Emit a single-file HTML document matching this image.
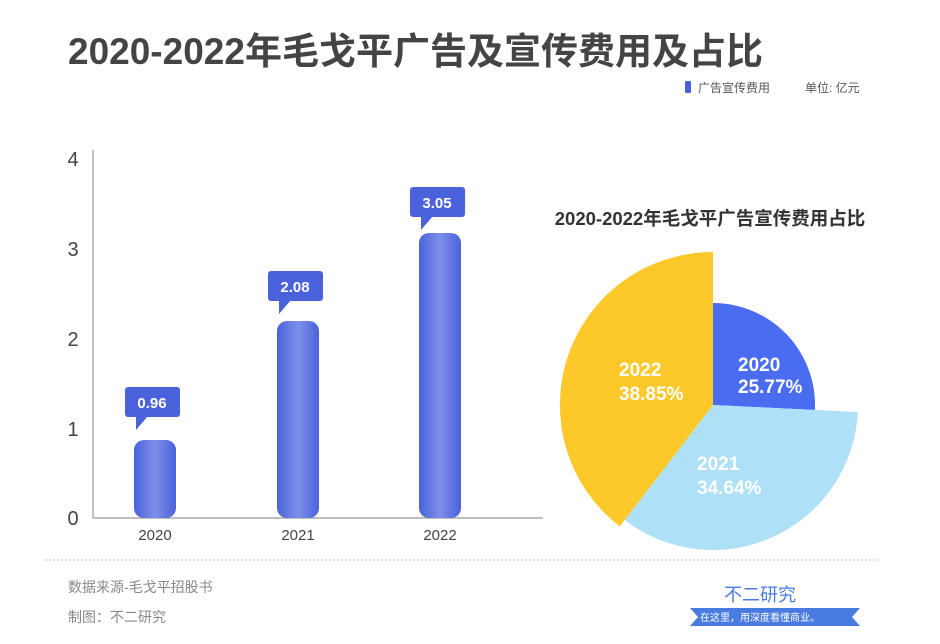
<!DOCTYPE html>
<html><head><meta charset="utf-8">
<style>
body{margin:0;width:940px;height:644px;background:#fff;overflow:hidden;font-family:"Liberation Sans","Noto Sans CJK SC",sans-serif;}
</style></head><body>
<svg width="940" height="644" viewBox="0 0 940 644" xmlns="http://www.w3.org/2000/svg" style="position:absolute;left:0;top:0">
<defs>
<linearGradient id="bg" x1="0" x2="1" y1="0" y2="0">
<stop offset="0" stop-color="#4a62db"/><stop offset="0.5" stop-color="#7e8fe8"/><stop offset="1" stop-color="#4a62db"/>
</linearGradient>
</defs>
<text x="68" y="64" font-size="37" font-weight="bold" fill="#444" font-family="Liberation Sans,Noto Sans CJK SC,sans-serif">2020-2022年毛戈平广告及宣传费用及占比</text>
<rect x="685" y="81" width="6" height="12" fill="#4a62db" rx="1"/>
<text x="698" y="92" font-size="12" fill="#555" font-family="Liberation Sans,Noto Sans CJK SC,sans-serif">广告宣传费用</text>
<text x="805" y="92" font-size="12" fill="#555" font-family="Liberation Sans,Noto Sans CJK SC,sans-serif">单位: 亿元</text>
<line x1="93" y1="150" x2="93" y2="518" stroke="#999" stroke-width="1.2"/>
<line x1="93" y1="518" x2="543" y2="518" stroke="#999" stroke-width="1.2"/>
<g font-size="20" fill="#444" text-anchor="middle">
<text x="73" y="166">4</text><text x="73" y="256">3</text><text x="73" y="346">2</text><text x="73" y="436">1</text><text x="73" y="525">0</text>
</g>
<g font-size="15" fill="#444" text-anchor="middle">
<text x="155" y="540">2020</text><text x="298" y="540">2021</text><text x="440" y="540">2022</text>
</g>
<rect x="134" y="440" width="42" height="78" rx="10" fill="url(#bg)"/>
<rect x="277" y="321" width="42" height="197" rx="10" fill="url(#bg)"/>
<rect x="419" y="233" width="42" height="285" rx="10" fill="url(#bg)"/>
<g font-size="15" font-weight="bold" fill="#fff" text-anchor="middle">
<rect x="125" y="387" width="55" height="30" rx="3" fill="#4a62db"/><path d="M136 416 L136 430 L148 416Z" fill="#4a62db"/><text x="152" y="408">0.96</text>
<rect x="268" y="271" width="55" height="30" rx="3" fill="#4a62db"/><path d="M279 300 L279 314 L291 300Z" fill="#4a62db"/><text x="295" y="292">2.08</text>
<rect x="410" y="187" width="55" height="30" rx="3" fill="#4a62db"/><path d="M421 216 L421 230 L433 216Z" fill="#4a62db"/><text x="437" y="208">3.05</text>
</g>
<text x="710" y="225" font-size="18.5" font-weight="bold" fill="#333" text-anchor="middle">2020-2022年毛戈平广告宣传费用占比</text>
<path d="M713 405 L713 303 A102 102 0 0 1 814.9 410 Z" fill="#4a6cf0"/>
<path d="M713 405 L857.8 412 A145 145 0 0 1 624.7 520 Z" fill="#aee0f8"/>
<path d="M713 405 L619.8 526.4 A153 153 0 0 1 713 252 Z" fill="#fcc82a"/>
<g font-size="19" font-weight="bold" fill="#fff">
<text x="738" y="371">2020</text><text x="738" y="393">25.77%</text>
<text x="619" y="376">2022</text><text x="619" y="400">38.85%</text>
<text x="697" y="470">2021</text><text x="697" y="494">34.64%</text>
</g>
<line x1="45" y1="560" x2="878" y2="560" stroke="#bbb" stroke-dasharray="2,2"/>
<text x="68" y="592" font-size="14" fill="#888">数据来源-毛戈平招股书</text>
<text x="68" y="622" font-size="14" fill="#888">制图：不二研究</text>
<text x="760" y="601" font-size="18" fill="#4a7be0" text-anchor="middle">不二研究</text>
<path d="M690 608 L860 608 L852 617 L860 626 L690 626 L698 617Z" fill="#4a7be0"/>
<text x="760" y="621" font-size="10" fill="#fff" text-anchor="middle">在这里，用深度看懂商业。</text>
</svg>
</body></html>
